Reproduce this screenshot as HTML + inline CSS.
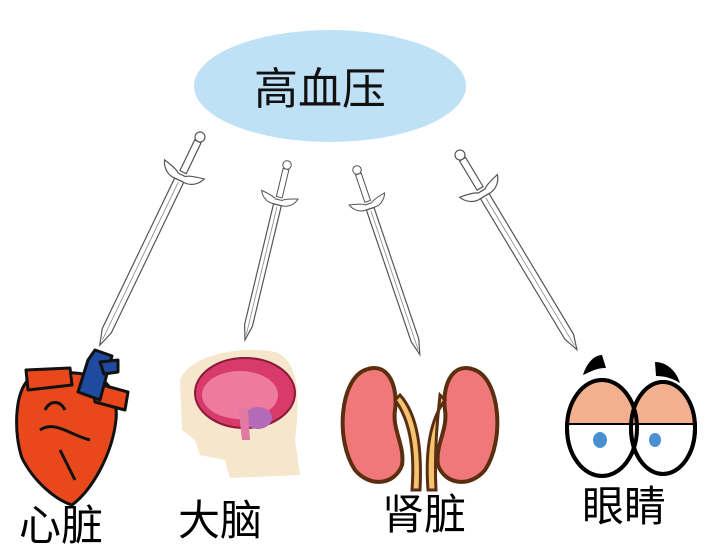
<!DOCTYPE html>
<html><head><meta charset="utf-8"><style>
html,body{margin:0;padding:0;background:#fff;}
svg{display:block}
text{font-family:"Liberation Sans","Noto Sans CJK SC",sans-serif;}
</style></head><body>
<svg width="709" height="557" viewBox="0 0 709 557" xmlns="http://www.w3.org/2000/svg">
<defs>
<g id="sw">
 <circle cx="0" cy="0" r="5" fill="#fff" stroke="#555" stroke-width="1.2"/>
 <rect x="-3.5" y="5" width="7" height="34" fill="#fff" stroke="#555" stroke-width="1.2"/>
 <path d="M-22,36 C-12,38 -6,40 -4,42 L4,42 C6,40 12,38 22,36 C20,42 14,48 6,48 L-6,48 C-14,48 -20,42 -22,36 Z" fill="#fff" stroke="#555" stroke-width="1.2"/>
</g>
</defs>
<ellipse cx="330" cy="86" rx="136" ry="56" fill="#bfe1f6"/>
<text x="320" y="104" font-size="44" text-anchor="middle" fill="#111">高血压</text>

<g transform="translate(200,137) rotate(25.7)">
 <use href="#sw"/><path d="M-5,48 L5,48 L5,215 L0,231 L-5,215 Z" fill="#fff" stroke="#555" stroke-width="1.2"/><line x1="0" y1="50" x2="0" y2="225" stroke="#888" stroke-width="0.8"/>
</g>
<g transform="translate(287,165) rotate(13.5)">
 <use href="#sw" transform="scale(0.85)"/><path d="M-4,41 L4,41 L4,165 L0,180 L-4,165 Z" fill="#fff" stroke="#555" stroke-width="1.2"/><line x1="0" y1="43" x2="0" y2="175" stroke="#888" stroke-width="0.8"/>
</g>
<g transform="translate(357,170) rotate(-18.8)">
 <use href="#sw" transform="scale(0.85)"/><path d="M-4,41 L4,41 L4,180 L0,195 L-4,180 Z" fill="#fff" stroke="#555" stroke-width="1.2"/><line x1="0" y1="43" x2="0" y2="190" stroke="#888" stroke-width="0.8"/>
</g>
<g transform="translate(460,155) rotate(-31)">
 <use href="#sw"/><path d="M-5,48 L5,48 L5,212 L0,227 L-5,212 Z" fill="#fff" stroke="#555" stroke-width="1.2"/><line x1="0" y1="50" x2="0" y2="222" stroke="#888" stroke-width="0.8"/>
</g>

<g stroke="#111" stroke-width="3" stroke-linejoin="round">
 <path d="M28,380 C14,395 14,435 22,458 C34,482 56,500 72,505 C92,490 112,455 116,420 C118,395 108,378 92,376 C70,370 45,372 28,380 Z" fill="#e8481c"/>
 <path d="M26,370 L70,368 L72,385 L28,390 Z" fill="#e8481c"/>
 <path d="M92,382 L128,392 L125,410 L95,402 Z" fill="#e8481c"/>
 <path d="M78,392 L88,360 L95,350 L112,356 L108,370 L100,400 Z" fill="#1e4aa0"/>
 <path d="M100,362 L118,360 L118,372 L104,374 Z" fill="#1e4aa0"/>
 <path d="M40,430 C55,420 70,435 90,440 M60,450 L75,480 M45,410 C50,400 60,400 65,410" fill="none"/>
</g>

<path d="M180,380 C190,355 240,345 275,352 C300,360 300,400 295,440 L300,475 L230,478 L225,460 L200,455 L195,440 L182,430 Z" fill="#f5e6cc"/>
<ellipse cx="245" cy="393" rx="50" ry="35" fill="#d83a6a" stroke="#8a1a3a" stroke-width="2"/>
<ellipse cx="240" cy="395" rx="38" ry="24" fill="#ee7aa0"/>
<ellipse cx="258" cy="418" rx="14" ry="11" fill="#b56ab8"/>
<path d="M238,405 L242,440 L250,440 L248,410 Z" fill="#e07aa0"/>

<g stroke="#5a2e10" stroke-width="4">
 <path d="M365,370 C340,380 335,440 355,470 C370,488 395,485 402,465 C405,445 392,430 395,410 C398,390 390,360 365,370 Z" fill="#f07878"/>
 <path d="M395,400 C410,420 415,450 412,490 L420,490 C422,450 418,415 400,395 Z" fill="#f4c470" stroke-width="3"/>
 <path d="M475,370 C500,380 505,440 485,470 C470,488 445,485 438,465 C435,445 448,430 445,410 C442,390 450,360 475,370 Z" fill="#f07878"/>
 <path d="M445,400 C430,420 425,450 428,490 L436,490 C434,450 438,415 440,395 Z" fill="#f4c470" stroke-width="3"/>
</g>

<g stroke="#000" stroke-width="4">
 <ellipse cx="602" cy="428" rx="35" ry="48" fill="#fff"/>
 <ellipse cx="663" cy="428" rx="32" ry="46" fill="#fff"/>
 <path d="M568,424 C568,395 582,382 602,382 C622,382 636,395 636,424 Z" fill="#f2b08e" stroke="none"/>
 <path d="M632,424 C632,395 646,384 663,384 C680,384 694,395 694,424 Z" fill="#f2b08e" stroke="none"/>
 <line x1="568" y1="424" x2="694" y2="424" stroke-width="2"/>
 <ellipse cx="602" cy="428" rx="35" ry="48" fill="none"/>
 <ellipse cx="663" cy="428" rx="32" ry="46" fill="none"/>
</g>
<ellipse cx="600" cy="440" rx="7" ry="8" fill="#4a90d0"/>
<ellipse cx="655" cy="440" rx="6" ry="7" fill="#4a90d0"/>
<path d="M583,375 C587,362 595,355 602,355 L606,368 C596,368 590,372 583,375 Z" fill="#000"/>
<path d="M655,362 C666,362 676,370 680,383 C672,378 664,376 656,376 Z" fill="#000"/>

<text x="19" y="540" font-size="42" fill="#000">心脏</text>
<text x="178" y="535" font-size="42" fill="#000">大脑</text>
<text x="382" y="529" font-size="42" fill="#000">肾脏</text>
<text x="582" y="521" font-size="42" fill="#000">眼睛</text>
</svg>
</body></html>
